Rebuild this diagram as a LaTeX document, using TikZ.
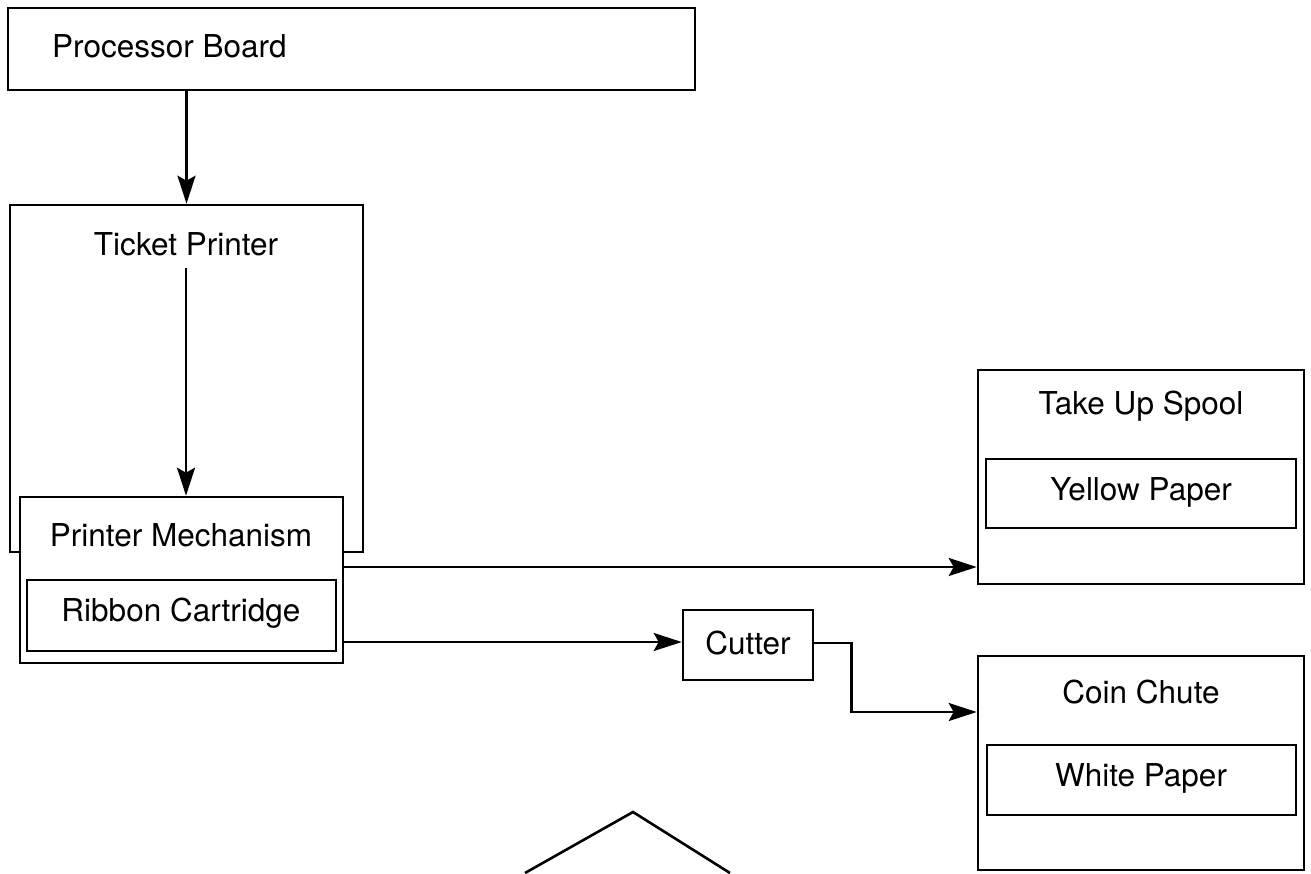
\documentclass[tikz,border=0pt]{standalone}
\usepackage{fontspec}
\setmainfont{TeX Gyre Heros}
\usetikzlibrary{arrows.meta}
\begin{document}
\begin{tikzpicture}[x=1pt,y=-1pt,
  box/.style={draw,line width=2.6pt,rectangle,inner sep=0pt,fill=white},
  lbl/.style={inner sep=0pt,font=\fontsize{31.5}{36}\selectfont},
  arr/.style={line width=2.6pt,-{Stealth[length=28pt,width=18pt,inset=5pt]}},
  ln/.style={line width=2.6pt}]
\fill[white] (0,0) rectangle (1311,873);
\useasboundingbox (0,0) rectangle (1311,873);
% Processor board
\node[box,minimum width=687pt,minimum height=82pt] (pb) at (351.5,49) {};
\node[lbl,anchor=west] (pbt) at (52,46) {Processor Board};
% Ticket printer
\node[box,minimum width=353pt,minimum height=347pt] (tp) at (186.5,378.5) {};
\node[lbl] (tpt) at (186,244) {Ticket Printer};
% Printer mechanism
\node[box,minimum width=323pt,minimum height=166pt] (pm) at (181.5,580) {};
\node[lbl] (pmt) at (181,535) {Printer Mechanism};
\node[box,minimum width=309pt,minimum height=71pt] (rc) at (181.5,615.5) {};
\node[lbl] (rct) at (181,613) {Ribbon Cartridge};
% Take up spool
\node[box,minimum width=326pt,minimum height=214pt] (tus) at (1141,477) {};
\node[lbl] (tust) at (1141,406) {Take Up Spool};
\node[box,minimum width=310pt,minimum height=69pt] (yp) at (1141,493.5) {};
\node[lbl] (ypt) at (1141,492) {Yellow Paper};
% Cutter
\node[box,minimum width=130pt,minimum height=70pt] (cut) at (748,645) {};
\node[lbl] (cutt) at (748,643) {Cutter};
% Coin chute
\node[box,minimum width=326pt,minimum height=214pt] (cc) at (1141,763) {};
\node[lbl] (cct) at (1141,692) {Coin Chute};
\node[box,minimum width=309pt,minimum height=70pt] (wp) at (1141.5,780) {};
\node[lbl] (wpt) at (1141,778) {White Paper};
% Connectors
\draw[arr] (pb.south -| tp.north) -- (tp.north);
\path (tpt.south) ++(0,12) coordinate (tpa);
\draw[arr] (tpa) -- (tpa |- pm.north);
\draw[arr] ([yshift=13pt]pm.east) -- ([yshift=13pt]pm.east -| tus.west);
\draw[arr] ([yshift=3pt]pm.east |- cut.west) -- ([yshift=3pt]cut.west);
\draw[arr] ([yshift=2pt]cut.east) -- ++(37,0) |- ([yshift=51pt]cc.west);
% Bottom shape
\coordinate (tl) at (525,873);
\coordinate (ta) at (633,812);
\coordinate (tr) at (730,873);
\draw[ln,line join=miter] (tl) -- (ta) -- (tr);
\end{tikzpicture}
\end{document}
